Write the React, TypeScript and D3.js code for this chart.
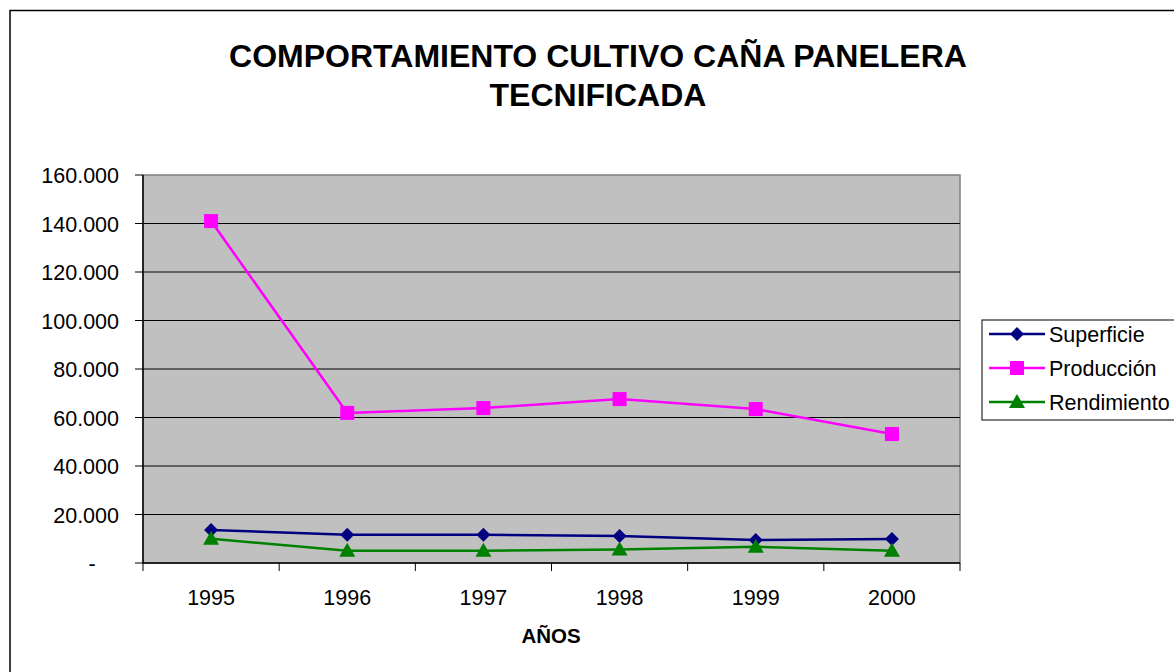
import React from "react";
import * as d3 from "d3";

const years = ["1995", "1996", "1997", "1998", "1999", "2000"];
const superficie = [13600, 11700, 11700, 11100, 9500, 9900];
const produccion = [141000, 61900, 63900, 67600, 63500, 53200];
const rendimiento = [10000, 5100, 5100, 5600, 6700, 5100];
const yTicks = [0, 20000, 40000, 60000, 80000, 100000, 120000, 140000, 160000];

const W = 1174;
const H = 672;
const plot = { left: 143, right: 960, top: 175, bottom: 563 };
const FS = 21.5;

const fmt = (v: number) =>
  v === 0 ? "-" : d3.format(",.3f")(v / 1000).replace(/,/g, "");

export default function App() {
  const x = d3
    .scaleBand<string>()
    .domain(years)
    .range([plot.left, plot.right])
    .padding(0);
  const y = d3.scaleLinear().domain([0, 160000]).range([plot.bottom, plot.top]);
  const cx = (i: number) => (x(years[i]) as number) + x.bandwidth() / 2;
  const line = d3
    .line<number>()
    .x((_, i) => cx(i))
    .y((d) => y(d));

  const series = [
    { name: "Superficie", data: superficie, color: "#000080", marker: "diamond" },
    { name: "Producción", data: produccion, color: "#FF00FF", marker: "square" },
    { name: "Rendimiento", data: rendimiento, color: "#008000", marker: "triangle" },
  ];

  const marker = (type: string, px: number, py: number, color: string, key: string) => {
    if (type === "diamond") {
      const s = 7;
      return (
        <path
          key={key}
          d={`M${px},${py - s}L${px + s},${py}L${px},${py + s}L${px - s},${py}Z`}
          fill={color}
        />
      );
    }
    if (type === "square") {
      return <rect key={key} x={px - 7} y={py - 7} width={14} height={14} fill={color} />;
    }
    const s = 8;
    return (
      <path
        key={key}
        d={`M${px},${py - s}L${px + s},${py + 6}L${px - s},${py + 6}Z`}
        fill={color}
      />
    );
  };

  const legendX = 982;
  const legendY = 320;

  return (
    <svg
      width={W}
      height={H}
      style={{ position: "absolute", left: 0, top: 0, fontFamily: "Arial, 'Liberation Sans', sans-serif" }}
    >
      <rect x={0} y={0} width={W} height={H} fill="#fff" />
      <rect x={10} y={10.5} width={W + 10} height={H + 10} fill="none" stroke="#000" strokeWidth={1.5} />
      <text x={598} y={67} textAnchor="middle" fontSize={32} fontWeight="bold">
        COMPORTAMIENTO CULTIVO CAÑA PANELERA
      </text>
      <text x={598} y={106} textAnchor="middle" fontSize={32} fontWeight="bold">
        TECNIFICADA
      </text>

      <rect
        x={plot.left}
        y={plot.top}
        width={plot.right - plot.left}
        height={plot.bottom - plot.top}
        fill="#C0C0C0"
        stroke="#808080"
        strokeWidth={1.5}
      />
      {yTicks.map((t) => (
        <g key={t}>
          {t > 0 && t < 160000 && (
            <line x1={plot.left} x2={plot.right} y1={y(t)} y2={y(t)} stroke="#000" strokeWidth={1} />
          )}
          <line x1={plot.left - 8} x2={plot.left} y1={y(t)} y2={y(t)} stroke="#000" />
          <text x={t === 0 ? 92 : 119} y={y(t) + 8} textAnchor={t === 0 ? "middle" : "end"} fontSize={FS}>
            {fmt(t)}
          </text>
        </g>
      ))}
      <line x1={plot.left} x2={plot.left} y1={plot.top} y2={plot.bottom} stroke="#000" strokeWidth={1.5} />
      <line x1={plot.left} x2={plot.right} y1={plot.bottom} y2={plot.bottom} stroke="#000" strokeWidth={1.5} />
      {years.map((yr) => (
        <line
          key={"t" + yr}
          x1={x(yr) as number}
          x2={x(yr) as number}
          y1={plot.bottom}
          y2={plot.bottom + 8}
          stroke="#000"
        />
      ))}
      <line x1={plot.right} x2={plot.right} y1={plot.bottom} y2={plot.bottom + 8} stroke="#000" />
      {years.map((yr, i) => (
        <text key={"l" + yr} x={cx(i)} y={605} textAnchor="middle" fontSize={FS}>
          {yr}
        </text>
      ))}
      <text x={551} y={643} textAnchor="middle" fontSize={20.5} fontWeight="bold">
        AÑOS
      </text>

      {series.map((s) => (
        <g key={s.name}>
          <path d={line(s.data) as string} fill="none" stroke={s.color} strokeWidth={2.5} />
          {s.data.map((v, i) => marker(s.marker, cx(i), y(v), s.color, s.name + i))}
        </g>
      ))}

      <rect x={legendX} y={legendY} width={200} height={100} fill="#fff" stroke="#000" strokeWidth={1} />
      {series.map((s, i) => {
        const ly = 334 + i * 34;
        return (
          <g key={"lg" + s.name}>
            <line x1={989} x2={1045} y1={ly} y2={ly} stroke={s.color} strokeWidth={2.5} />
            {marker(s.marker, 1017, ly, s.color, "lm" + i)}
            <text x={1049} y={ly + 8} fontSize={FS}>
              {s.name}
            </text>
          </g>
        );
      })}
    </svg>
  );
}
